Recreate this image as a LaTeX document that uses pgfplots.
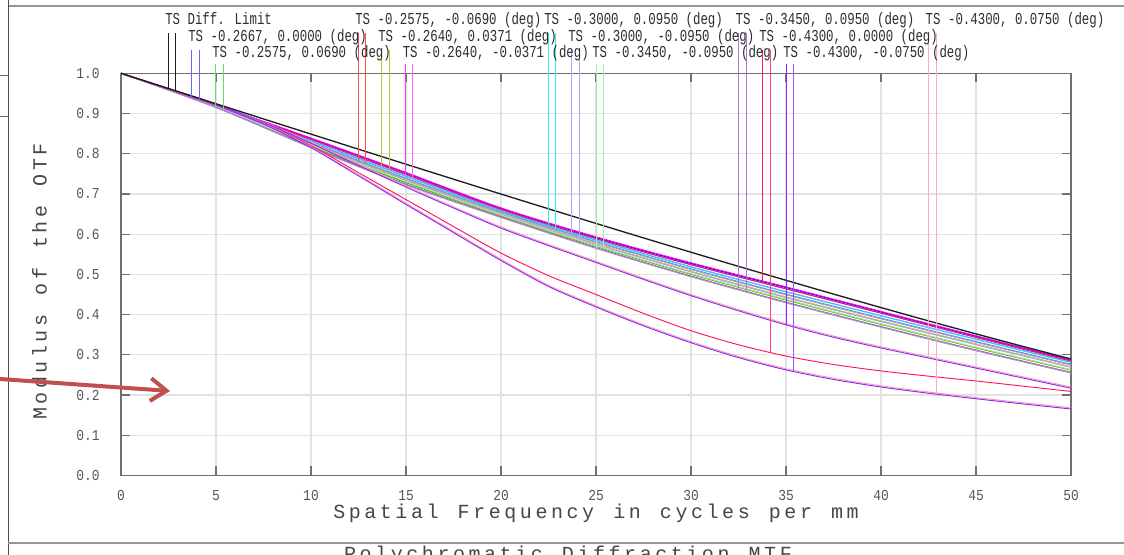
\documentclass[border=0pt]{standalone}
\usepackage{fontspec}
\usepackage{graphicx}
\usepackage{pgfplots}
\usepackage{pgfplotstable}
\pgfplotsset{compat=1.18}
\usetikzlibrary{arrows.meta}
\setmainfont{Liberation Mono}
\newfontfamily\zm{Liberation Mono}

\definecolor{axgray}{RGB}{112,112,112}
\definecolor{grgray}{RGB}{226,226,226}
\definecolor{tkgray}{RGB}{85,85,95}
\definecolor{lbgray}{RGB}{70,70,70}
\definecolor{lgtext}{RGB}{45,45,45}
\definecolor{frgray}{RGB}{150,150,150}
\definecolor{arrowred}{RGB}{192,80,77}
\definecolor{dfc}{RGB}{30,30,30}
\definecolor{fA}{RGB}{0,0,255}
\definecolor{fB}{RGB}{0,200,0}
\definecolor{fC}{RGB}{255,0,0}
\definecolor{fD}{RGB}{180,180,0}
\definecolor{fE}{RGB}{255,0,255}
\definecolor{fF}{RGB}{0,230,230}
\definecolor{fG}{RGB}{130,130,255}
\definecolor{fH}{RGB}{120,230,120}
\definecolor{fI}{RGB}{160,80,190}
\definecolor{fJ}{RGB}{255,20,90}
\definecolor{fK}{RGB}{140,40,255}
\definecolor{fL}{RGB}{255,150,170}

\newcommand\lgt[1]{{\fontsize{12.5pt}{14pt}\zm\scalebox{0.744}[1]{#1}}}
\newcommand\tl[1]{\scalebox{0.85}[1]{#1}}
\def\lsw{11.67pt}
\def\spaced#1{\spacedi#1\relax}
\def\spacedi#1{\ifx\relax#1\else\makebox[\lsw]{#1}\expandafter\spacedi\fi}

\pgfplotstableread{
f bT bS gT gS rT rS oT oS mT mS cT cS lT lS hT hS pT pS jT
0 1 1 1 1 1 1 1 1 1 1 1 1 1 1 1 1 1 1 1
5 0.9210 0.9203 0.9160 0.9153 0.9173 0.9180 0.9163 0.9175 0.9212 0.9196 0.9193 0.9185 0.9187 0.9170 0.9150 0.9165 0.9155 0.9150 0.9205
10 0.8380 0.8350 0.8190 0.8160 0.8238 0.8265 0.8200 0.8245 0.8390 0.8320 0.8310 0.8275 0.8280 0.8230 0.8150 0.8215 0.8165 0.8155 0.8360
15 0.7520 0.7480 0.7280 0.7235 0.7349 0.7375 0.7300 0.7355 0.7535 0.7445 0.7430 0.7385 0.7390 0.7335 0.7220 0.7310 0.7240 0.7225 0.7495
20 0.6640 0.6605 0.6455 0.6420 0.6507 0.6540 0.6465 0.6515 0.6655 0.6590 0.6580 0.6547 0.6555 0.6498 0.6415 0.6476 0.6430 0.6418 0.6620
25 0.5917 0.5885 0.5698 0.5657 0.5757 0.5800 0.5707 0.5765 0.5935 0.5857 0.5850 0.5807 0.5815 0.5748 0.5648 0.5716 0.5663 0.5650 0.5895
30 0.5271 0.5240 0.5002 0.4951 0.5071 0.5125 0.5011 0.5080 0.5290 0.5191 0.5183 0.5131 0.5140 0.5062 0.4942 0.5020 0.4957 0.4945 0.5245
35 0.4673 0.4640 0.4364 0.4303 0.4433 0.4495 0.4373 0.4442 0.4690 0.4573 0.4565 0.4503 0.4512 0.4424 0.4294 0.4382 0.4310 0.4297 0.4640
40 0.4065 0.4035 0.3757 0.3695 0.3835 0.3898 0.3765 0.3845 0.4080 0.3975 0.3968 0.3905 0.3914 0.3826 0.3686 0.3774 0.3702 0.3690 0.4040
45 0.3461 0.3432 0.3173 0.3111 0.3261 0.3315 0.3181 0.3270 0.3475 0.3391 0.3385 0.3321 0.3330 0.3252 0.3102 0.3190 0.3118 0.3105 0.3440
50 0.2867 0.2845 0.2620 0.2557 0.2697 0.2750 0.2627 0.2705 0.2880 0.2817 0.2810 0.2757 0.2765 0.2690 0.2550 0.2635 0.2565 0.2552 0.2850
}\bundle

\pgfplotstableread{
f diff modV modP red lowV lowP
0 1 1 1 1 1 1
2.5 0.9621 0.962 0.962 0.961 0.961 0.961
5 0.9243 0.923 0.923 0.921 0.921 0.921
7.5 0.8865 0.878 0.879 0.875 0.874 0.875
10 0.8488 0.826 0.828 0.820 0.815 0.817
12.5 0.8112 0.771 0.774 0.753 0.745 0.748
15 0.7739 0.717 0.720 0.686 0.674 0.677
17.5 0.7367 0.665 0.668 0.619 0.604 0.607
20 0.6997 0.615 0.618 0.553 0.5345 0.5375
22.5 0.6631 0.5715 0.5745 0.497 0.470 0.473
25 0.6267 0.5295 0.5325 0.450 0.419 0.422
27.5 0.5907 0.4875 0.4905 0.403 0.372 0.375
30 0.5551 0.447 0.450 0.360 0.330 0.333
32.5 0.5200 0.4095 0.4125 0.325 0.293 0.296
35 0.4853 0.3745 0.3775 0.297 0.2625 0.2655
37.5 0.4511 0.3438 0.3468 0.276 0.2388 0.2418
40 0.4175 0.317 0.320 0.260 0.2200 0.2230
42.5 0.3844 0.292 0.295 0.247 0.2045 0.2075
45 0.3521 0.267 0.270 0.235 0.1908 0.1938
47.5 0.3206 0.242 0.245 0.222 0.1778 0.1808
50 0.2897 0.217 0.220 0.209 0.1653 0.1683
}\lowtab

\begin{document}
\begin{tikzpicture}
\fill[white] (0,0) rectangle (843pt,416.25pt);
\useasboundingbox (0,0) rectangle (843pt,416.25pt);
% screenshot frame
\draw[frgray, line width=1.5pt] (6pt,411.75pt) -- (843pt,411.75pt);
\draw[black!70, line width=0.75pt] (6pt,416.25pt) -- (6pt,0pt);
\draw[black!60, line width=0.75pt] (0pt,359.25pt) -- (6pt,359.25pt);
\draw[black!60, line width=0.75pt] (0pt,328.5pt) -- (6pt,328.5pt);
\draw[frgray, line width=1.5pt] (6pt,9pt) -- (843pt,9pt);

\begin{axis}[
  at={(90.75pt,59.625pt)}, anchor=south west,
  width=712.5pt, height=301.65pt, scale only axis,
  xmin=0, xmax=50, ymin=0, ymax=1,
  clip=false, no markers,
  axis line style={draw=axgray, line width=1pt},
  tick align=inside, xtick pos=both, ytick pos=both,
  xticklabel pos=lower, yticklabel pos=left,
  major tick length=6.75pt,
  tick style={draw=axgray, line width=0.9pt},
  grid=major, major grid style={draw=grgray, line width=1pt},
  xtick={0,5,10,15,20,25,30,35,40,45,50},
  xticklabels={\tl{0},\tl{5},\tl{10},\tl{15},\tl{20},\tl{25},\tl{30},\tl{35},\tl{40},\tl{45},\tl{50}},
  ytick={0,0.1,0.2,0.3,0.4,0.5,0.6,0.7,0.8,0.9,1.0},
  yticklabels={\tl{0.0},\tl{0.1},\tl{0.2},\tl{0.3},\tl{0.4},\tl{0.5},\tl{0.6},\tl{0.7},\tl{0.8},\tl{0.9},\tl{1.0}},
  xticklabel style={anchor=north, inner sep=0pt, yshift=-11pt, text=tkgray, font=\fontsize{11.4pt}{12pt}\zm},
  yticklabel style={anchor=east, inner sep=0pt, xshift=-15.75pt, text=tkgray, font=\fontsize{11.4pt}{12pt}\zm},
  every axis plot/.append style={line width=0.7pt},
]
% bundle curves
\addplot[fA, smooth] table[x=f,y=bT]{\bundle};
\addplot[fA!70, smooth] table[x=f,y=bS]{\bundle};
\addplot[fB, smooth] table[x=f,y=gT]{\bundle};
\addplot[fB!70, smooth] table[x=f,y=gS]{\bundle};
\addplot[fC, smooth] table[x=f,y=rT]{\bundle};
\addplot[fC!70, smooth] table[x=f,y=rS]{\bundle};
\addplot[fD, smooth] table[x=f,y=oT]{\bundle};
\addplot[fD!70, smooth] table[x=f,y=oS]{\bundle};
\addplot[fE, smooth] table[x=f,y=mT]{\bundle};
\addplot[fE!70, smooth] table[x=f,y=mS]{\bundle};
\addplot[fF, smooth] table[x=f,y=cT]{\bundle};
\addplot[fF!70, smooth] table[x=f,y=cS]{\bundle};
\addplot[fG, smooth] table[x=f,y=lT]{\bundle};
\addplot[fG!70, smooth] table[x=f,y=lS]{\bundle};
\addplot[fH, smooth] table[x=f,y=hT]{\bundle};
\addplot[fH!70, smooth] table[x=f,y=hS]{\bundle};
\addplot[fI, smooth] table[x=f,y=pT]{\bundle};
\addplot[fI!70, smooth] table[x=f,y=pS]{\bundle};
\addplot[fJ, smooth] table[x=f,y=jT]{\bundle};
% lower curves
\addplot[fL, smooth] table[x=f,y=modP]{\lowtab};
\addplot[fK, smooth] table[x=f,y=modV]{\lowtab};
\addplot[fJ, smooth] table[x=f,y=red]{\lowtab};
\addplot[fL, smooth] table[x=f,y=lowP]{\lowtab};
\addplot[fK, smooth] table[x=f,y=lowV]{\lowtab};
% diffraction limit
\addplot[dfc, line width=1pt, smooth] table[x=f,y=diff]{\lowtab};
% legend pointer lines
\addplot[dfc, line width=0.6pt] coordinates {(2.47,1.100) (2.47,0.962)};
\addplot[dfc, line width=0.6pt] coordinates {(2.84,1.100) (2.84,0.957)};
\addplot[fA!60, line width=0.6pt] coordinates {(3.72,1.058) (3.72,0.941)};
\addplot[fA!60, line width=0.6pt] coordinates {(4.12,1.058) (4.12,0.934)};
\addplot[fB!60, line width=0.6pt] coordinates {(4.98,1.023) (4.98,0.916)};
\addplot[fB!60, line width=0.6pt] coordinates {(5.38,1.023) (5.38,0.908)};
\addplot[fC!70, line width=0.6pt] coordinates {(12.49,1.100) (12.49,0.780)};
\addplot[fC!70, line width=0.6pt] coordinates {(12.86,1.100) (12.86,0.775)};
\addplot[fD!80, line width=0.6pt] coordinates {(13.72,1.058) (13.72,0.754)};
\addplot[fD!80, line width=0.6pt] coordinates {(14.10,1.058) (14.10,0.752)};
\addplot[fE!80, line width=0.6pt] coordinates {(14.96,1.023) (14.96,0.748)};
\addplot[fE!60, line width=0.6pt] coordinates {(15.35,1.023) (15.35,0.738)};
\addplot[fF!80, line width=0.6pt] coordinates {(22.49,1.100) (22.49,0.622)};
\addplot[fF!80, line width=0.6pt] coordinates {(22.88,1.100) (22.88,0.612)};
\addplot[fG!70, line width=0.6pt] coordinates {(23.72,1.058) (23.72,0.600)};
\addplot[fG!70, line width=0.6pt] coordinates {(24.12,1.058) (24.12,0.588)};
\addplot[fH!70, line width=0.6pt] coordinates {(25.00,1.023) (25.00,0.565)};
\addplot[fH!70, line width=0.6pt] coordinates {(25.40,1.023) (25.40,0.566)};
\addplot[fI!80, line width=0.6pt] coordinates {(32.50,1.100) (32.50,0.463)};
\addplot[fI!80, line width=0.6pt] coordinates {(32.90,1.100) (32.90,0.457)};
\addplot[fJ, line width=0.6pt] coordinates {(33.75,1.058) (33.75,0.479)};
\addplot[fJ!80, line width=0.6pt] coordinates {(34.16,1.058) (34.16,0.306)};
\addplot[fK, line width=0.6pt] coordinates {(35.03,1.023) (35.03,0.374)};
\addplot[fK!80, line width=0.6pt] coordinates {(35.40,1.023) (35.40,0.259)};
\addplot[fL!80, line width=0.6pt] coordinates {(42.50,1.100) (42.50,0.295)};
\addplot[fL!80, line width=0.6pt] coordinates {(42.90,1.100) (42.90,0.205)};
\end{axis}

% legend texts
\tikzset{lg/.style={anchor=base west, inner sep=0pt, text=lgtext}}
\node[lg] at (123.75pt,397.5pt) {\lgt{TS Diff. Limit}};
\node[lg] at (266.25pt,397.5pt) {\lgt{TS -0.2575, -0.0690 (deg)}};
\node[lg] at (408pt,397.5pt) {\lgt{TS -0.3000, 0.0950 (deg)}};
\node[lg] at (551.6pt,397.5pt) {\lgt{TS -0.3450, 0.0950 (deg)}};
\node[lg] at (694.1pt,397.5pt) {\lgt{TS -0.4300, 0.0750 (deg)}};
\node[lg] at (141pt,385.1pt) {\lgt{TS -0.2667, 0.0000 (deg)}};
\node[lg] at (283.5pt,385.1pt) {\lgt{TS -0.2640, 0.0371 (deg)}};
\node[lg] at (426pt,385.1pt) {\lgt{TS -0.3000, -0.0950 (deg)}};
\node[lg] at (569.25pt,385.1pt) {\lgt{TS -0.4300, 0.0000 (deg)}};
\node[lg] at (159pt,372.75pt) {\lgt{TS -0.2575, 0.0690 (deg)}};
\node[lg] at (301.9pt,372.75pt) {\lgt{TS -0.2640, -0.0371 (deg)}};
\node[lg] at (444pt,372.75pt) {\lgt{TS -0.3450, -0.0950 (deg)}};
\node[lg] at (587.25pt,372.75pt) {\lgt{TS -0.4300, -0.0750 (deg)}};

% axis labels
\node[anchor=base, inner sep=0pt, text=lbgray, font=\fontsize{15pt}{16pt}\zm] at (447pt,27pt) {\spaced{Spatial~Frequency~in~cycles~per~mm}};
\node[anchor=base, inner sep=0pt, rotate=90, text=lbgray, font=\fontsize{15pt}{16pt}\zm] at (35pt,205.1pt) {\spaced{Modulus~of~the~OTF}};
\begin{scope}
\clip (0,0) rectangle (843pt,416.25pt);
\node[anchor=base, inner sep=0pt, text=lbgray, font=\fontsize{15pt}{16pt}\zm] at (426pt,-4pt) {\spaced{Polychromatic~Diffraction~MTF}};
\end{scope}

% annotation arrow
\draw[arrowred, line width=3pt, -{Straight Barb[length=12pt,width=17pt]}] (0pt,132pt) -- (127.5pt,123pt);
\end{tikzpicture}
\end{document}
